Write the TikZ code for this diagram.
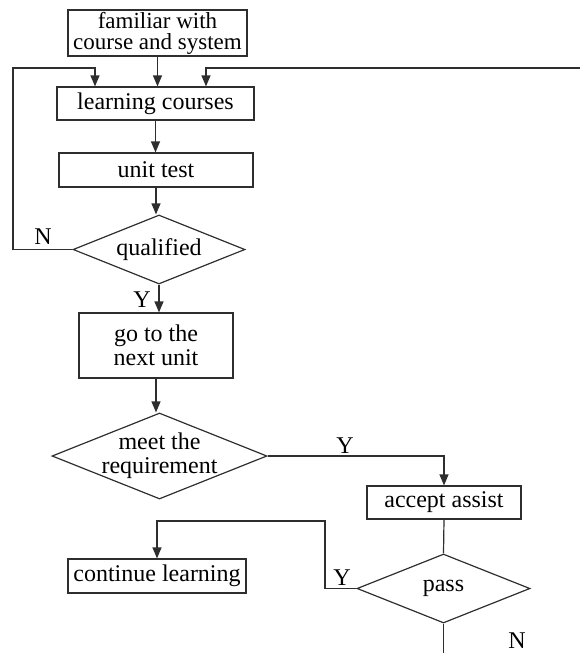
\documentclass[tikz,border=0pt]{standalone}
\usepackage{fontspec}
\setmainfont{Liberation Serif}
\usepackage{tikz}
\usetikzlibrary{shapes.geometric,arrows.meta,positioning,calc}
\usepackage{xcolor}
\definecolor{ink}{HTML}{2E2E2E}
\tikzset{
  stepbox/.style={draw=ink, line width=0.6pt, inner sep=1pt, align=center,
    font=\fontsize{12}{12}\selectfont},
  choice/.style={diamond, draw=ink, line width=0.6pt, inner sep=0pt,
    shape aspect=2.5, align=center, font=\fontsize{12}{12}\selectfont},
  flow/.style={draw=ink, line width=0.6pt},
  arr/.style={flow, -{Triangle[length=5.5pt,width=4.5pt]}},
  tag/.style={font=\fontsize{12}{12}\selectfont}
}

\begin{document}
\begin{tikzpicture}[x=0.5pt, y=-0.5pt]
  \useasboundingbox (0,0) rectangle (580,653);
  % boxes and decisions
  \node[stepbox, minimum width=89.5pt, minimum height=22pt, font=\fontsize{11.5}{10.5}\selectfont]
    (fam) at (157.5,33) {familiar with\\course and system};
  \node[stepbox, minimum width=98.5pt, minimum height=16.5pt] (learn) at (155.5,103.5) {learning courses};
  \node[stepbox, minimum width=97pt, minimum height=17pt] (test) at (156,170) {unit test};
  \node[choice, minimum width=86pt, minimum height=34.5pt] (qual) at (159,249.5) {qualified};
  \node[stepbox, minimum width=77pt, minimum height=32.5pt] (nextu) at (156,345.5) {go to the\\next unit};
  \node[choice, inner sep=-3pt, minimum width=107.5pt, minimum height=43pt] (meet) at (159.5,456) {meet the\\requirement};
  \node[stepbox, minimum width=77pt, minimum height=16.5pt] (assist) at (444,502.5) {accept assist};
  \node[choice, minimum width=86.5pt, minimum height=34.5pt] (pass) at (443.5,588.5) {pass};
  \node[stepbox, minimum width=89pt, minimum height=17pt] (cont) at (157,576) {continue learning};

  % helper points
  \coordinate (loopL) at (13,68);
  \coordinate (farR) at (580,68);
  \coordinate (turn) at (325,521);
  \coordinate (exitN) at (443.5,653);

  % connectors
  \draw[arr] (fam.south) -- (fam.south |- learn.north);
  \draw[arr] (qual.west) -| (loopL) -| ($(learn.north)+(-60.5,0)$);
  \draw[arr] (farR) -| ($(learn.north)+(50.5,0)$);
  \draw[arr] (learn.south) -- (learn.south |- test.north);
  \draw[arr] (test.south) -- (test.south |- qual.north);
  \draw[arr] (qual.south) -- (qual.south |- nextu.north);
  \draw[arr] (nextu.south) -- (nextu.south |- meet.north);
  \draw[arr] (meet.east) -| (assist.north);
  \draw[flow] (assist.south) -- (pass.north);
  \draw[arr] (pass.west) -| (turn) -| (cont.north);
  \draw[flow] (pass.south) -- (exitN);

  % branch labels
  \node[tag] (nq) at (43,237) {N};
  \node[tag] (yq) at (142,300) {Y};
  \node[tag] (ym) at (345,446) {Y};
  \node[tag] (yp) at (342,578) {Y};
  \node[tag] (np) at (517,641) {N};
\end{tikzpicture}
\end{document}
